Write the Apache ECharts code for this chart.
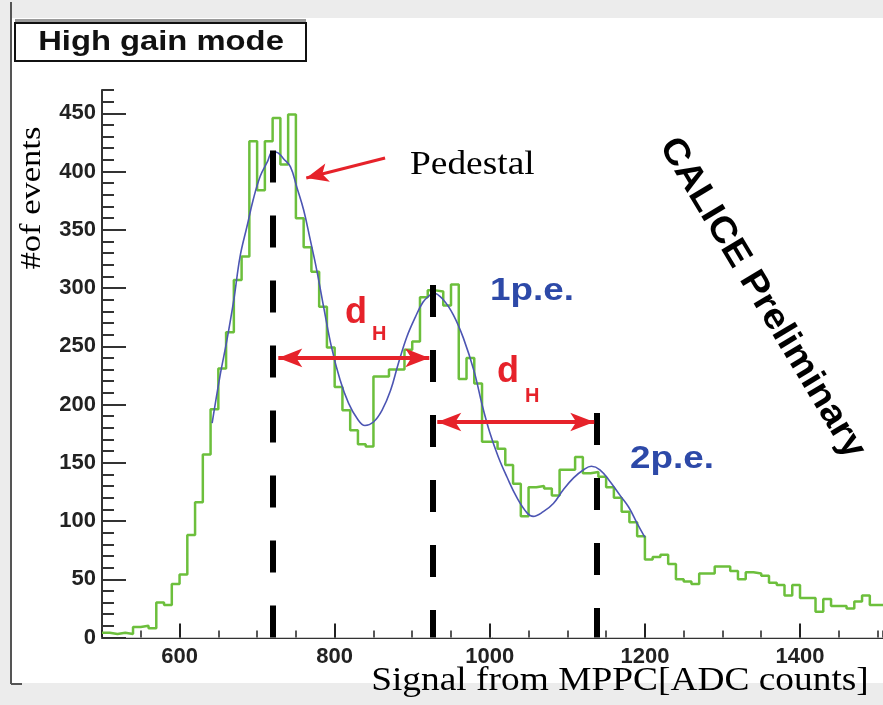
<!DOCTYPE html>
<html><head><meta charset="utf-8">
<script src="https://cdn.jsdelivr.net/npm/echarts@6/dist/echarts.min.js"></script>
<style>html,body{margin:0;padding:0;background:#ececec;}#c{width:883px;height:705px;}</style>
</head><body><div id="c"></div>
<script>
// ---- data ----
const binStarts = [500,510,520,530,540,550,560,570,580,590,
  600,610,620,630,640,650,660,670,680,690,
  700,710,720,730,740,750,760,770,780,790,
  800,810,820,830,840,850,860,870,880,890,
  900,910,920,930,940,950,960,970,980,990,
  1000,1010,1020,1030,1040,1050,1060,1070,1080,1090,
  1100,1110,1120,1130,1140,1150,1160,1170,1180,1190,
  1200,1210,1220,1230,1240,1250,1260,1270,1280,1290,
  1300,1310,1320,1330,1340,1350,1360,1370,1380,1390,
  1400,1410,1420,1430,1440,1450,1460,1470,1480,1490,1500];
const counts = [4,3,4,3,9,10,8,30,28,46,
  54,88,116,157,196,231,262,307,327,426,
  384,426,446,406,449,360,335,314,284,249,
  215,195,178,166,164,224,224,230,230,247,
  254,292,298,297,285,303,222,240,218,168,
  168,162,148,132,104,129,130,128,122,144,
  144,155,141,142,138,129,120,108,99,87,
  67,69,71,63,50,48,46,55,55,61,
  61,57,50,56,55,53,47,45,36,45,
  34,34,22,33,27,27,25,31,36,28,28];
const binWidth = 10;
const fitX = [642,652,661,670,678,687,695,704,713,720,727,734,743,751,760,768,777,786,796,807,818,829,839,850,861,872,882,893,904,914,923,927,940,953,966,980,990,1000,1011,1022,1035,1048,1056,1069,1082,1095,1108,1121,1131,1142,1155,1168,1179,1190,1200];
const fitY = [184,224,255,290,327,353,376,396,408,417,416,411,404,387,367,343,315,283,249,221,201,188,182,185,195,212,235,258,275,288,294,296,290,277,257,228,200,176,155,138,120,107,104,108,115,127,137,144,147,144,134,122,112,98,86];
const xMajor = [600,800,1000,1200,1400];
const yMajor = [0,50,100,150,200,250,300,350,400,450];
const guideX = [720,927,1138];
const guideTop = [418,302.6,192.7];
const dArrowY = [240,185];
const dArrowFrom = [727.3,932.3];
const dArrowTo = [922,1134.7];
const pedArrow = [[865,411.6],[763.4,394.4]];

// ---- chart ----
const SANS = '"Liberation Sans", Arial, sans-serif';
const SERIF = '"Liberation Serif", "Times New Roman", serif';
const RED = '#e6222a';
const BLUE = '#2d49a8';

const histData = binStarts.map((x,i)=>[x,counts[i]]);
histData.push([binStarts[binStarts.length-1]+binWidth, counts[counts.length-1]]);
const fitData = fitX.map((x,i)=>[x,fitY[i]]);
const guides = guideX.map((x,i)=>[{coord:[x,guideTop[i]]},{coord:[x,0]}]);
const dArrows = dArrowY.map((y,i)=>[{coord:[dArrowFrom[i],y]},{coord:[dArrowTo[i],y]}]);
const plain = v => String(v);

function txt(x,y,text,font,fill,opts){
  opts = opts||{};
  return Object.assign({type:'text', x:x, y:y, silent:true, z:50,
    style:{text:text, font:font, fill:fill,
      textAlign:opts.align||'left', align:opts.align||'left',
      textVerticalAlign:'middle', verticalAlign:'middle'}}, opts.el||{});
}

const chart = echarts.init(document.getElementById('c'));
chart.setOption({
  animation:false,
  backgroundColor:'#ececec',
  grid:{left:102, top:90, right:0, bottom:67.5, show:false},
  xAxis:[
    {type:'value', min:500, max:1507, position:'bottom',
     axisLine:{show:true, onZero:false, lineStyle:{color:'#333', width:2}},
     axisTick:{show:true, inside:true, length:14, customValues:xMajor, lineStyle:{color:'#222', width:2}},
     axisLabel:{show:true, customValues:xMajor, formatter:plain, fontSize:22, fontWeight:'bold', color:'#222', fontFamily:SANS, margin:8},
     splitLine:{show:false}},
    {type:'value', min:500, max:1507, interval:50, position:'bottom',
     axisLine:{show:false}, axisTick:{show:true, inside:true, length:7, lineStyle:{color:'#222', width:1.5}},
     axisLabel:{show:false}, splitLine:{show:false}},
    {type:'value', min:500, max:1507, position:'top',
     axisLine:{show:true, lineStyle:{color:'#c8c8c8', width:1}},
     axisTick:{show:false}, axisLabel:{show:false}, splitLine:{show:false}}
  ],
  yAxis:[
    {type:'value', min:0, max:470, position:'left',
     axisLine:{show:true, onZero:false, lineStyle:{color:'#333', width:2}},
     axisTick:{show:true, inside:true, length:24, customValues:yMajor, lineStyle:{color:'#333', width:2}},
     axisLabel:{show:true, customValues:yMajor, formatter:plain, fontSize:22, fontWeight:'bold', color:'#222', fontFamily:SANS, margin:6},
     splitLine:{show:false}},
    {type:'value', min:0, max:470, interval:10, position:'left',
     axisLine:{show:false}, axisTick:{show:true, inside:true, length:12, lineStyle:{color:'#333', width:2}},
     axisLabel:{show:false}, splitLine:{show:false}}
  ],
  series:[
    {type:'line', name:'hist', xAxisIndex:0, yAxisIndex:0, data:histData, step:'end',
     showSymbol:false, lineStyle:{color:'#6cbf3c', width:2.5}, z:2, silent:true},
    {type:'line', name:'fit', xAxisIndex:0, yAxisIndex:0, data:fitData, smooth:0.4,
     showSymbol:false, lineStyle:{color:'#4c55b3', width:1.6}, z:3, silent:true},
    {type:'line', name:'guides', xAxisIndex:0, yAxisIndex:0, data:[], z:4,
     markLine:{silent:true, symbol:['none','none'], label:{show:false}, animation:false,
       lineStyle:{color:'#000', width:6, type:[32,33], opacity:1}, data:guides}},
    {type:'line', name:'dh', xAxisIndex:0, yAxisIndex:0, data:[], z:5,
     markLine:{silent:true, symbol:['arrow','arrow'], symbolSize:[14,24], label:{show:false}, animation:false,
       lineStyle:{color:RED, width:4, type:'solid', opacity:1}, data:dArrows}},
    {type:'line', name:'ped', xAxisIndex:0, yAxisIndex:0, data:[], z:5,
     markLine:{silent:true, symbol:['none','arrow'], symbolSize:[14,22], label:{show:false}, animation:false,
       lineStyle:{color:RED, width:3, type:'solid', opacity:1},
       data:[[{coord:pedArrow[0]},{coord:pedArrow[1]}]]}}
  ],
  graphic:[
    {type:'rect', shape:{x:11,y:18,width:872,height:665}, style:{fill:'#fff'}, z:-5, silent:true},
    {type:'line', shape:{x1:11,y1:2,x2:11,y2:684}, style:{stroke:'#555', lineWidth:2}, z:10, silent:true},
    {type:'line', shape:{x1:11,y1:684,x2:22,y2:684}, style:{stroke:'#555', lineWidth:2}, z:10, silent:true},
    {type:'rect', shape:{x:15,y:19,width:291,height:5}, style:{fill:'#9a9a9a'}, z:10, silent:true},
    {type:'rect', shape:{x:15,y:23,width:291,height:38}, style:{fill:'#fff', stroke:'#111', lineWidth:2}, z:11, silent:true},
    txt(161,42,'High gain mode','bold 28px '+SANS,'#111',{align:'center', el:{scaleX:1.17}}),
    txt(32,198,'#of events','30px '+SERIF,'#000',{align:'center', el:{rotation:Math.PI/2, scaleX:1.15}}),
    txt(410,165,'Pedestal','34px '+SERIF,'#000',{el:{scaleX:1.1}}),
    txt(620,681,'Signal from MPPC[ADC counts]','34px '+SERIF,'#000',{align:'center', el:{scaleX:1.1}}),
    txt(762,298,'CALICE Preliminary','bold 36px '+SANS,'#000',{align:'center', el:{rotation:-1.03, scaleX:1.08}}),
    txt(490,291,'1p.e.','bold 32px '+SANS,BLUE,{el:{scaleX:1.15}}),
    txt(630,459,'2p.e.','bold 32px '+SANS,BLUE,{el:{scaleX:1.15}}),
    txt(345,313,'d','bold 36px '+SANS,RED),
    txt(372,334,'H','bold 20px '+SANS,RED),
    txt(497,372,'d','bold 36px '+SANS,RED),
    txt(525,396,'H','bold 20px '+SANS,RED)
  ]
});
</script></body></html>
